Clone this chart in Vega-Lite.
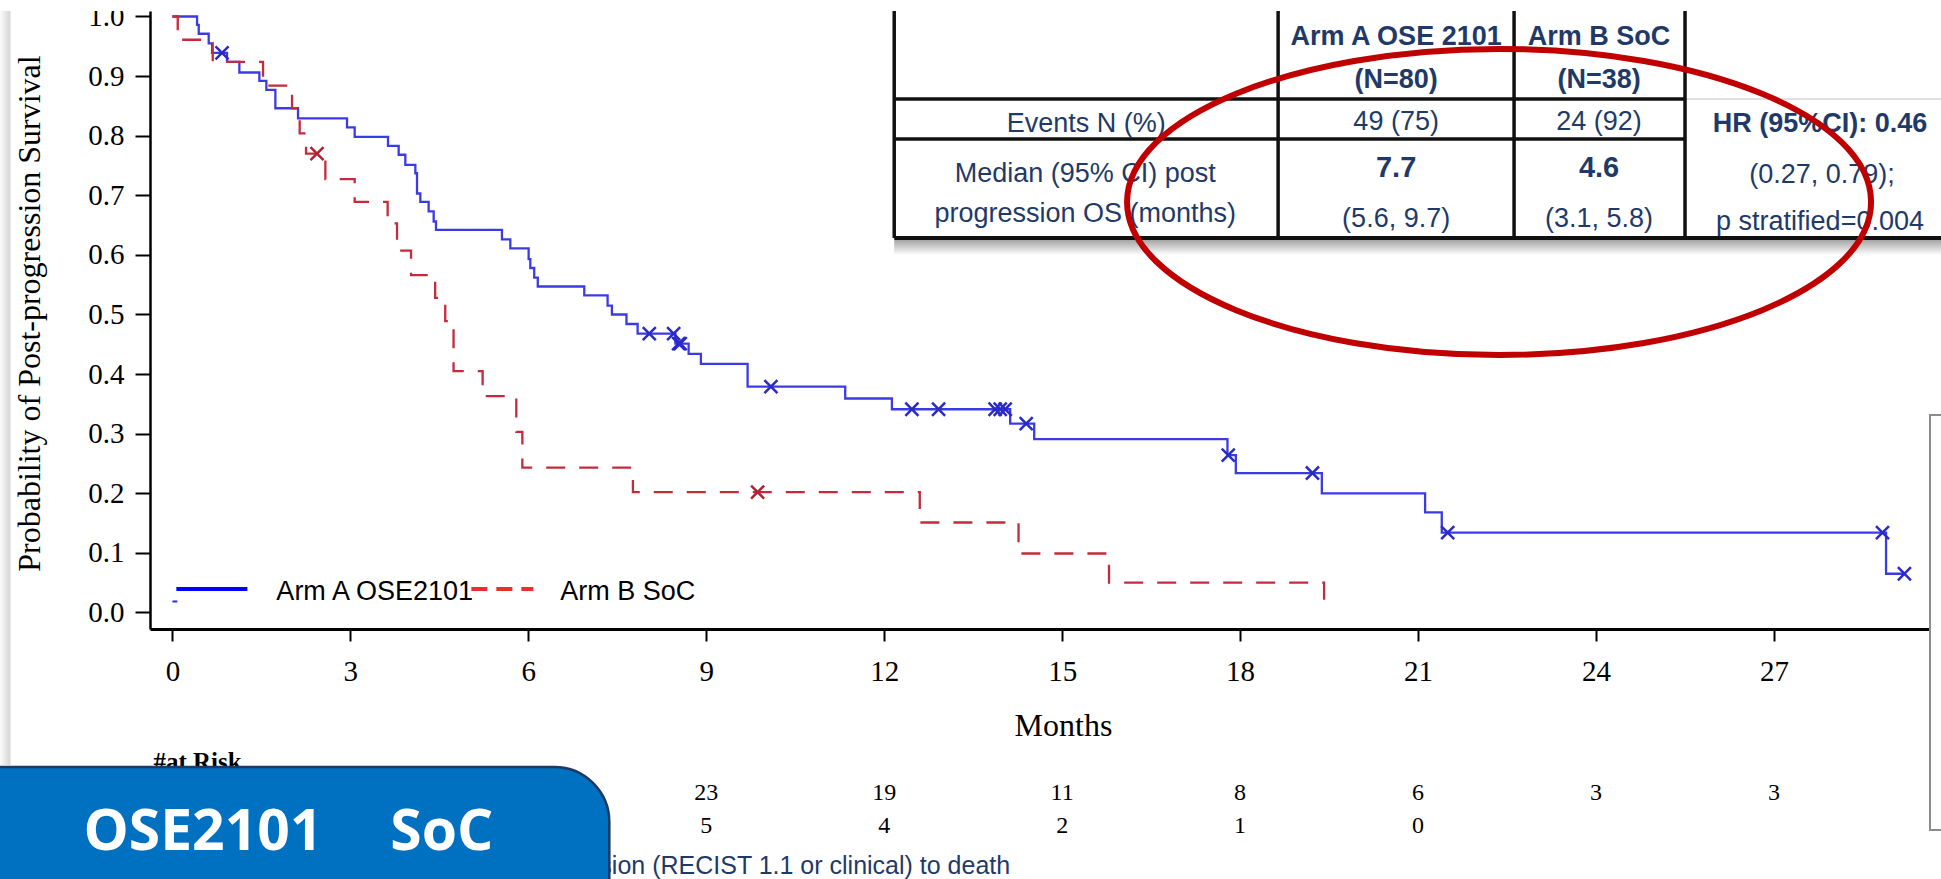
{
  "$schema": "https://vega.github.io/schema/vega-lite/v6.json",
  "width": 1780,
  "height": 618,
  "autosize": {"type": "none"},
  "padding": {"left": 150, "top": 11, "right": 11, "bottom": 250},
  "background": "white",
  "config": {"view": {"stroke": null}, "axis": {"grid": false}},
  "datasets": {
    "curves": [
      {"arm": "Arm A OSE2101", "months": 0, "survival": 1},
      {"arm": "Arm A OSE2101", "months": 0.416, "survival": 0.986},
      {"arm": "Arm A OSE2101", "months": 0.444, "survival": 0.971},
      {"arm": "Arm A OSE2101", "months": 0.612, "survival": 0.955},
      {"arm": "Arm A OSE2101", "months": 0.669, "survival": 0.939},
      {"arm": "Arm A OSE2101", "months": 0.921, "survival": 0.924},
      {"arm": "Arm A OSE2101", "months": 1.129, "survival": 0.906},
      {"arm": "Arm A OSE2101", "months": 1.466, "survival": 0.892},
      {"arm": "Arm A OSE2101", "months": 1.584, "survival": 0.877},
      {"arm": "Arm A OSE2101", "months": 1.736, "survival": 0.846},
      {"arm": "Arm A OSE2101", "months": 2.118, "survival": 0.829},
      {"arm": "Arm A OSE2101", "months": 2.944, "survival": 0.814},
      {"arm": "Arm A OSE2101", "months": 3.073, "survival": 0.798},
      {"arm": "Arm A OSE2101", "months": 3.635, "survival": 0.783},
      {"arm": "Arm A OSE2101", "months": 3.815, "survival": 0.768},
      {"arm": "Arm A OSE2101", "months": 3.927, "survival": 0.751},
      {"arm": "Arm A OSE2101", "months": 4.096, "survival": 0.737},
      {"arm": "Arm A OSE2101", "months": 4.124, "survival": 0.703},
      {"arm": "Arm A OSE2101", "months": 4.18, "survival": 0.689},
      {"arm": "Arm A OSE2101", "months": 4.32, "survival": 0.673},
      {"arm": "Arm A OSE2101", "months": 4.405, "survival": 0.656},
      {"arm": "Arm A OSE2101", "months": 4.444, "survival": 0.642},
      {"arm": "Arm A OSE2101", "months": 5.556, "survival": 0.626},
      {"arm": "Arm A OSE2101", "months": 5.697, "survival": 0.611},
      {"arm": "Arm A OSE2101", "months": 6.006, "survival": 0.593},
      {"arm": "Arm A OSE2101", "months": 6.034, "survival": 0.578},
      {"arm": "Arm A OSE2101", "months": 6.1, "survival": 0.562},
      {"arm": "Arm A OSE2101", "months": 6.16, "survival": 0.547},
      {"arm": "Arm A OSE2101", "months": 6.944, "survival": 0.532},
      {"arm": "Arm A OSE2101", "months": 7.337, "survival": 0.515},
      {"arm": "Arm A OSE2101", "months": 7.41, "survival": 0.5},
      {"arm": "Arm A OSE2101", "months": 7.655, "survival": 0.484},
      {"arm": "Arm A OSE2101", "months": 7.843, "survival": 0.468},
      {"arm": "Arm A OSE2101", "months": 8.48, "survival": 0.451},
      {"arm": "Arm A OSE2101", "months": 8.703, "survival": 0.434},
      {"arm": "Arm A OSE2101", "months": 8.91, "survival": 0.417},
      {"arm": "Arm A OSE2101", "months": 9.697, "survival": 0.379},
      {"arm": "Arm A OSE2101", "months": 11.343, "survival": 0.359},
      {"arm": "Arm A OSE2101", "months": 12.13, "survival": 0.341},
      {"arm": "Arm A OSE2101", "months": 14.124, "survival": 0.317},
      {"arm": "Arm A OSE2101", "months": 14.529, "survival": 0.291},
      {"arm": "Arm A OSE2101", "months": 17.787, "survival": 0.264},
      {"arm": "Arm A OSE2101", "months": 17.928, "survival": 0.234},
      {"arm": "Arm A OSE2101", "months": 19.378, "survival": 0.2},
      {"arm": "Arm A OSE2101", "months": 21.119, "survival": 0.168},
      {"arm": "Arm A OSE2101", "months": 21.4, "survival": 0.134},
      {"arm": "Arm A OSE2101", "months": 28.89, "survival": 0.065},
      {"arm": "Arm A OSE2101", "months": 29.2, "survival": 0.065},
      {"arm": "Arm B SoC", "months": 0, "survival": 1},
      {"arm": "Arm B SoC", "months": 0.09, "survival": 0.961},
      {"arm": "Arm B SoC", "months": 0.68, "survival": 0.924},
      {"arm": "Arm B SoC", "months": 1.528, "survival": 0.884},
      {"arm": "Arm B SoC", "months": 2.017, "survival": 0.846},
      {"arm": "Arm B SoC", "months": 2.146, "survival": 0.804},
      {"arm": "Arm B SoC", "months": 2.253, "survival": 0.77},
      {"arm": "Arm B SoC", "months": 2.579, "survival": 0.727},
      {"arm": "Arm B SoC", "months": 3.073, "survival": 0.689},
      {"arm": "Arm B SoC", "months": 3.629, "survival": 0.653},
      {"arm": "Arm B SoC", "months": 3.787, "survival": 0.607},
      {"arm": "Arm B SoC", "months": 4.023, "survival": 0.566},
      {"arm": "Arm B SoC", "months": 4.43, "survival": 0.528},
      {"arm": "Arm B SoC", "months": 4.6, "survival": 0.489},
      {"arm": "Arm B SoC", "months": 4.74, "survival": 0.405},
      {"arm": "Arm B SoC", "months": 5.23, "survival": 0.363},
      {"arm": "Arm B SoC", "months": 5.798, "survival": 0.303},
      {"arm": "Arm B SoC", "months": 5.9, "survival": 0.243},
      {"arm": "Arm B SoC", "months": 7.764, "survival": 0.202},
      {"arm": "Arm B SoC", "months": 12.6, "survival": 0.151},
      {"arm": "Arm B SoC", "months": 14.265, "survival": 0.099},
      {"arm": "Arm B SoC", "months": 15.79, "survival": 0.05},
      {"arm": "Arm B SoC", "months": 19.416, "survival": 0}
    ],
    "censored": [
      {"arm": "Arm A OSE2101", "months": 0.837, "survival": 0.939},
      {"arm": "Arm A OSE2101", "months": 8.04, "survival": 0.468},
      {"arm": "Arm A OSE2101", "months": 8.45, "survival": 0.468},
      {"arm": "Arm A OSE2101", "months": 8.534, "survival": 0.451},
      {"arm": "Arm A OSE2101", "months": 8.562, "survival": 0.451},
      {"arm": "Arm A OSE2101", "months": 10.09, "survival": 0.379},
      {"arm": "Arm A OSE2101", "months": 12.467, "survival": 0.341},
      {"arm": "Arm A OSE2101", "months": 12.917, "survival": 0.341},
      {"arm": "Arm A OSE2101", "months": 13.87, "survival": 0.341},
      {"arm": "Arm A OSE2101", "months": 13.956, "survival": 0.341},
      {"arm": "Arm A OSE2101", "months": 14.04, "survival": 0.341},
      {"arm": "Arm A OSE2101", "months": 14.394, "survival": 0.317},
      {"arm": "Arm A OSE2101", "months": 17.8, "survival": 0.264},
      {"arm": "Arm A OSE2101", "months": 19.22, "survival": 0.234},
      {"arm": "Arm A OSE2101", "months": 21.5, "survival": 0.134},
      {"arm": "Arm A OSE2101", "months": 28.83, "survival": 0.134},
      {"arm": "Arm A OSE2101", "months": 29.2, "survival": 0.065},
      {"arm": "Arm B SoC", "months": 2.438, "survival": 0.77},
      {"arm": "Arm B SoC", "months": 9.866, "survival": 0.202}
    ],
    "atrisk": [
      {"arm": "OSE2101", "months": 9, "n": 23},
      {"arm": "OSE2101", "months": 12, "n": 19},
      {"arm": "OSE2101", "months": 15, "n": 11},
      {"arm": "OSE2101", "months": 18, "n": 8},
      {"arm": "OSE2101", "months": 21, "n": 6},
      {"arm": "OSE2101", "months": 24, "n": 3},
      {"arm": "OSE2101", "months": 27, "n": 3},
      {"arm": "SoC", "months": 9, "n": 5},
      {"arm": "SoC", "months": 12, "n": 4},
      {"arm": "SoC", "months": 15, "n": 2},
      {"arm": "SoC", "months": 18, "n": 1},
      {"arm": "SoC", "months": 21, "n": 0}
    ]
  },
  "layer": [
    {
      "data": {"values": [{"item": "left edge shadow"}]},
      "mark": {"type": "rect", "color": {"gradient": "linear", "x1": 0, "y1": 0, "x2": 1, "y2": 0, "stops": [{"offset": 0, "color": "#ffffff"}, {"offset": 1, "color": "#d4d4d4"}]}},
      "encoding": {
        "x": {"datum": -2.92, "type": "quantitative"}, "x2": {"datum": -2.73},
        "y": {"datum": 1.0092, "type": "quantitative"}, "y2": {"datum": -0.2559}
      }
    },
    {
      "data": {"name": "curves"},
      "mark": {"type": "line", "interpolate": "step-after", "strokeWidth": 2.3},
      "encoding": {
        "x": {
          "field": "months", "type": "quantitative",
          "scale": {"domain": [-0.3775, 29.631], "nice": false, "zero": false},
          "axis": {
            "values": [0, 3, 6, 9, 12, 15, 18, 21, 24, 27],
            "format": "d",
            "title": "Months",
            "labelFont": "Liberation Serif", "labelFontSize": 29, "labelColor": "black",
            "labelBaseline": "alphabetic", "labelPadding": 39, "labelAngle": 0,
            "labelFlush": false, "labelOverlap": false,
            "tickSize": 12, "tickWidth": 2, "tickColor": "black",
            "domainColor": "black", "domainWidth": 3,
            "titleFont": "Liberation Serif", "titleFontSize": 32, "titleFontWeight": "normal", "titleColor": "black",
            "titleBaseline": "alphabetic", "titleAlign": "center", "titleX": 913, "titleY": 106
          }
        },
        "y": {
          "field": "survival", "type": "quantitative",
          "scale": {"domain": [-0.0277, 1.0092], "nice": false, "zero": false},
          "axis": {
            "values": [0, 0.1, 0.2, 0.3, 0.4, 0.5, 0.6, 0.7, 0.8, 0.9, 1.0],
            "format": ".1f",
            "title": "Probability of Post-progression Survival",
            "labelFont": "Liberation Serif", "labelFontSize": 29, "labelColor": "black",
            "labelPadding": 11, "labelFlush": false, "labelOverlap": false,
            "tickSize": 15, "tickWidth": 2, "tickColor": "black",
            "domainColor": "black", "domainWidth": 2.5,
            "titleFont": "Liberation Serif", "titleFontSize": 32, "titleFontWeight": "normal", "titleColor": "black",
            "titleAngle": 270, "titleBaseline": "alphabetic", "titleAlign": "center", "titleX": -111, "titleY": 302
          }
        },
        "color": {"field": "arm", "type": "nominal", "scale": {"domain": ["Arm A OSE2101", "Arm B SoC"], "range": ["#3b3be6", "#c42b3c"]}, "legend": null},
        "strokeDash": {"field": "arm", "type": "nominal", "scale": {"domain": ["Arm A OSE2101", "Arm B SoC"], "range": [[1, 0], [19, 14]]}, "legend": null}
      }
    },
    {
      "data": {"name": "censored"},
      "mark": {"type": "point", "shape": "M -1 -1 L 1 1 M -1 1 L 1 -1", "size": 170, "filled": false, "strokeWidth": 2.5, "opacity": 1},
      "encoding": {
        "x": {"field": "months", "type": "quantitative"},
        "y": {"field": "survival", "type": "quantitative"},
        "stroke": {"field": "arm", "type": "nominal", "scale": {"domain": ["Arm A OSE2101", "Arm B SoC"], "range": ["#2a2ac4", "#b02231"]}, "legend": null}
      }
    },
    {
      "data": {"values": [{"item": "start mark"}]},
      "mark": {"type": "rule", "color": "#2b2bff", "strokeWidth": 2},
      "encoding": {"x": {"datum": 0, "type": "quantitative"}, "x2": {"datum": 0.084}, "y": {"datum": 0.0185, "type": "quantitative"}}
    },
    {
      "data": {"values": [{"arm": "Arm A OSE2101"}]},
      "mark": {"type": "rule", "color": "#0000ff", "strokeWidth": 4},
      "encoding": {"x": {"datum": 0.067, "type": "quantitative"}, "x2": {"datum": 1.264}, "y": {"datum": 0.0394, "type": "quantitative"}}
    },
    {
      "data": {"values": [{"arm": "Arm A OSE2101"}]},
      "mark": {"type": "text", "font": "Liberation Sans", "fontSize": 27, "color": "black", "align": "left", "baseline": "alphabetic"},
      "encoding": {"text": {"field": "arm"}, "x": {"datum": 1.753, "type": "quantitative"}, "y": {"datum": 0.021, "type": "quantitative"}}
    },
    {
      "data": {"values": [{"arm": "Arm B SoC"}]},
      "mark": {"type": "rule", "color": "#e8302c", "strokeWidth": 4, "strokeDash": [16, 9]},
      "encoding": {"x": {"datum": 5.04, "type": "quantitative"}, "x2": {"datum": 6.085}, "y": {"datum": 0.0394, "type": "quantitative"}}
    },
    {
      "data": {"values": [{"arm": "Arm B SoC"}]},
      "mark": {"type": "text", "font": "Liberation Sans", "fontSize": 27, "color": "black", "align": "left", "baseline": "alphabetic"},
      "encoding": {"text": {"field": "arm"}, "x": {"datum": 6.54, "type": "quantitative"}, "y": {"datum": 0.021, "type": "quantitative"}}
    },
    {
      "data": {"values": [{"item": "top mask"}]},
      "mark": {"type": "rect", "color": "white"},
      "encoding": {"x": {"datum": -1.9, "type": "quantitative"}, "x2": {"datum": -0.45}, "y": {"datum": 1.05, "type": "quantitative"}, "y2": {"datum": 1.0092}}
    },
    {
      "data": {"values": [{"item": "table shadow"}]},
      "mark": {"type": "rect", "color": {"gradient": "linear", "x1": 0, "y1": 0, "x2": 0, "y2": 1, "stops": [{"offset": 0, "color": "#a4a4a4"}, {"offset": 1, "color": "#ffffff"}]}},
      "encoding": {"x": {"datum": 12.169, "type": "quantitative"}, "x2": {"datum": 29.95}, "y": {"datum": 0.625, "type": "quantitative"}, "y2": {"datum": 0.5998}}
    },
    {
      "data": {"values": [{"line": "gray header rule"}]},
      "mark": {"type": "rule", "color": "#d6d6d6", "strokeWidth": 1.5},
      "encoding": {"x": {"datum": 25.501, "type": "quantitative"}, "x2": {"datum": 29.95}, "y": {"datum": 0.8616, "type": "quantitative"}}
    },
    {
      "data": {"values": [{"line": "v1"}]},
      "mark": {"type": "rule", "color": "#111111", "strokeWidth": 3.5},
      "encoding": {"x": {"datum": 12.169, "type": "quantitative"}, "y": {"datum": 1.0092, "type": "quantitative"}, "y2": {"datum": 0.6284}}
    },
    {
      "data": {"values": [{"line": "v2"}]},
      "mark": {"type": "rule", "color": "#111111", "strokeWidth": 3.5},
      "encoding": {"x": {"datum": 18.641, "type": "quantitative"}, "y": {"datum": 1.0092, "type": "quantitative"}, "y2": {"datum": 0.6284}}
    },
    {
      "data": {"values": [{"line": "v3"}]},
      "mark": {"type": "rule", "color": "#111111", "strokeWidth": 3.5},
      "encoding": {"x": {"datum": 22.619, "type": "quantitative"}, "y": {"datum": 1.0092, "type": "quantitative"}, "y2": {"datum": 0.6284}}
    },
    {
      "data": {"values": [{"line": "v4"}]},
      "mark": {"type": "rule", "color": "#111111", "strokeWidth": 3.5},
      "encoding": {"x": {"datum": 25.501, "type": "quantitative"}, "y": {"datum": 1.0092, "type": "quantitative"}, "y2": {"datum": 0.6284}}
    },
    {
      "data": {"values": [{"line": "h1"}]},
      "mark": {"type": "rule", "color": "#111111", "strokeWidth": 3.5},
      "encoding": {"x": {"datum": 12.169, "type": "quantitative"}, "x2": {"datum": 25.501}, "y": {"datum": 0.8616, "type": "quantitative"}}
    },
    {
      "data": {"values": [{"line": "h2"}]},
      "mark": {"type": "rule", "color": "#111111", "strokeWidth": 3.5},
      "encoding": {"x": {"datum": 12.169, "type": "quantitative"}, "x2": {"datum": 25.501}, "y": {"datum": 0.7945, "type": "quantitative"}}
    },
    {
      "data": {"values": [{"line": "h3"}]},
      "mark": {"type": "rule", "color": "#111111", "strokeWidth": 4},
      "encoding": {"x": {"datum": 12.169, "type": "quantitative"}, "x2": {"datum": 29.95}, "y": {"datum": 0.6284, "type": "quantitative"}}
    },
    {
      "data": {"values": [{"label": "Arm A OSE 2101"}]},
      "mark": {"type": "text", "font": "Liberation Sans", "fontSize": 27, "fontWeight": "bold", "color": "#1f3a68", "align": "center", "baseline": "alphabetic"},
      "encoding": {"text": {"field": "label"}, "x": {"datum": 20.631, "type": "quantitative"}, "y": {"datum": 0.9522, "type": "quantitative"}}
    },
    {
      "data": {"values": [{"label": "(N=80)"}]},
      "mark": {"type": "text", "font": "Liberation Sans", "fontSize": 27, "fontWeight": "bold", "color": "#1f3a68", "align": "center", "baseline": "alphabetic"},
      "encoding": {"text": {"field": "label"}, "x": {"datum": 20.631, "type": "quantitative"}, "y": {"datum": 0.88, "type": "quantitative"}}
    },
    {
      "data": {"values": [{"label": "Arm B SoC"}]},
      "mark": {"type": "text", "font": "Liberation Sans", "fontSize": 27, "fontWeight": "bold", "color": "#1f3a68", "align": "center", "baseline": "alphabetic"},
      "encoding": {"text": {"field": "label"}, "x": {"datum": 24.052, "type": "quantitative"}, "y": {"datum": 0.9522, "type": "quantitative"}}
    },
    {
      "data": {"values": [{"label": "(N=38)"}]},
      "mark": {"type": "text", "font": "Liberation Sans", "fontSize": 27, "fontWeight": "bold", "color": "#1f3a68", "align": "center", "baseline": "alphabetic"},
      "encoding": {"text": {"field": "label"}, "x": {"datum": 24.052, "type": "quantitative"}, "y": {"datum": 0.88, "type": "quantitative"}}
    },
    {
      "data": {"values": [{"label": "Events N (%)"}]},
      "mark": {"type": "text", "font": "Liberation Sans", "fontSize": 27, "color": "#1f3a68", "align": "center", "baseline": "alphabetic"},
      "encoding": {"text": {"field": "label"}, "x": {"datum": 15.405, "type": "quantitative"}, "y": {"datum": 0.807, "type": "quantitative"}}
    },
    {
      "data": {"values": [{"label": "49 (75)"}]},
      "mark": {"type": "text", "font": "Liberation Sans", "fontSize": 27, "color": "#1f3a68", "align": "center", "baseline": "alphabetic"},
      "encoding": {"text": {"field": "label"}, "x": {"datum": 20.631, "type": "quantitative"}, "y": {"datum": 0.8096, "type": "quantitative"}}
    },
    {
      "data": {"values": [{"label": "24 (92)"}]},
      "mark": {"type": "text", "font": "Liberation Sans", "fontSize": 27, "color": "#1f3a68", "align": "center", "baseline": "alphabetic"},
      "encoding": {"text": {"field": "label"}, "x": {"datum": 24.052, "type": "quantitative"}, "y": {"datum": 0.8096, "type": "quantitative"}}
    },
    {
      "data": {"values": [{"label": "HR (95%CI): 0.46"}]},
      "mark": {"type": "text", "font": "Liberation Sans", "fontSize": 27, "fontWeight": "bold", "color": "#1f3a68", "align": "center", "baseline": "alphabetic"},
      "encoding": {"text": {"field": "label"}, "x": {"datum": 27.777, "type": "quantitative"}, "y": {"datum": 0.807, "type": "quantitative"}}
    },
    {
      "data": {"values": [{"label": "Median (95% CI) post"}]},
      "mark": {"type": "text", "font": "Liberation Sans", "fontSize": 27, "color": "#1f3a68", "align": "center", "baseline": "alphabetic"},
      "encoding": {"text": {"field": "label"}, "x": {"datum": 15.39, "type": "quantitative"}, "y": {"datum": 0.7228, "type": "quantitative"}}
    },
    {
      "data": {"values": [{"label": "progression OS (months)"}]},
      "mark": {"type": "text", "font": "Liberation Sans", "fontSize": 27, "color": "#1f3a68", "align": "center", "baseline": "alphabetic"},
      "encoding": {"text": {"field": "label"}, "x": {"datum": 15.39, "type": "quantitative"}, "y": {"datum": 0.6552, "type": "quantitative"}}
    },
    {
      "data": {"values": [{"label": "7.7"}]},
      "mark": {"type": "text", "font": "Liberation Sans", "fontSize": 29, "fontWeight": "bold", "color": "#1f3a68", "align": "center", "baseline": "alphabetic"},
      "encoding": {"text": {"field": "label"}, "x": {"datum": 20.631, "type": "quantitative"}, "y": {"datum": 0.7312, "type": "quantitative"}}
    },
    {
      "data": {"values": [{"label": "4.6"}]},
      "mark": {"type": "text", "font": "Liberation Sans", "fontSize": 29, "fontWeight": "bold", "color": "#1f3a68", "align": "center", "baseline": "alphabetic"},
      "encoding": {"text": {"field": "label"}, "x": {"datum": 24.052, "type": "quantitative"}, "y": {"datum": 0.7312, "type": "quantitative"}}
    },
    {
      "data": {"values": [{"label": "(5.6, 9.7)"}]},
      "mark": {"type": "text", "font": "Liberation Sans", "fontSize": 27, "color": "#1f3a68", "align": "center", "baseline": "alphabetic"},
      "encoding": {"text": {"field": "label"}, "x": {"datum": 20.631, "type": "quantitative"}, "y": {"datum": 0.6473, "type": "quantitative"}}
    },
    {
      "data": {"values": [{"label": "(3.1, 5.8)"}]},
      "mark": {"type": "text", "font": "Liberation Sans", "fontSize": 27, "color": "#1f3a68", "align": "center", "baseline": "alphabetic"},
      "encoding": {"text": {"field": "label"}, "x": {"datum": 24.052, "type": "quantitative"}, "y": {"datum": 0.6473, "type": "quantitative"}}
    },
    {
      "data": {"values": [{"label": "(0.27, 0.79);"}]},
      "mark": {"type": "text", "font": "Liberation Sans", "fontSize": 27, "color": "#1f3a68", "align": "center", "baseline": "alphabetic"},
      "encoding": {"text": {"field": "label"}, "x": {"datum": 27.81, "type": "quantitative"}, "y": {"datum": 0.7201, "type": "quantitative"}}
    },
    {
      "data": {"values": [{"label": "p stratified=0.004"}]},
      "mark": {"type": "text", "font": "Liberation Sans", "fontSize": 27, "color": "#1f3a68", "align": "center", "baseline": "alphabetic"},
      "encoding": {"text": {"field": "label"}, "x": {"datum": 27.777, "type": "quantitative"}, "y": {"datum": 0.6418, "type": "quantitative"}}
    },
    {
      "data": {"values": [{"item": "highlight ellipse"}]},
      "mark": {"type": "point", "shape": "M 1 0 C 1 0.2272 0.5523 0.4113 0 0.4113 C -0.5523 0.4113 -1 0.2272 -1 0 C -1 -0.2272 -0.5523 -0.4113 0 -0.4113 C 0.5523 -0.4113 1 -0.2272 1 0 Z", "size": 553536, "filled": false, "stroke": "#c00000", "strokeWidth": 6, "opacity": 1},
      "encoding": {"x": {"datum": 22.366, "type": "quantitative"}, "y": {"datum": 0.6888, "type": "quantitative"}}
    },
    {
      "data": {"values": [{"item": "right panel"}]},
      "mark": {"type": "rect", "color": "white", "stroke": "#8c8c8c", "strokeWidth": 2},
      "encoding": {"x": {"datum": 29.631, "type": "quantitative"}, "x2": {"datum": 30.4}, "y": {"datum": 0.3314, "type": "quantitative"}, "y2": {"datum": -0.3649}}
    },
    {
      "data": {"values": [{"label": "#at Risk"}]},
      "mark": {"type": "text", "font": "Liberation Serif", "fontSize": 25, "fontWeight": "bold", "color": "black", "align": "left", "baseline": "alphabetic"},
      "encoding": {"text": {"field": "label"}, "x": {"datum": -0.32, "type": "quantitative"}, "y": {"datum": -0.2643, "type": "quantitative"}}
    },
    {
      "data": {"name": "atrisk"},
      "transform": [{"filter": "datum.arm === 'OSE2101'"}],
      "mark": {"type": "text", "font": "Liberation Serif", "fontSize": 24, "color": "black", "align": "center", "baseline": "alphabetic"},
      "encoding": {"text": {"field": "n"}, "x": {"field": "months", "type": "quantitative"}, "y": {"datum": -0.3146, "type": "quantitative"}}
    },
    {
      "data": {"name": "atrisk"},
      "transform": [{"filter": "datum.arm === 'SoC'"}],
      "mark": {"type": "text", "font": "Liberation Serif", "fontSize": 24, "color": "black", "align": "center", "baseline": "alphabetic"},
      "encoding": {"text": {"field": "n"}, "x": {"field": "months", "type": "quantitative"}, "y": {"datum": -0.37, "type": "quantitative"}}
    },
    {
      "data": {"values": [{"label": "progression (RECIST 1.1 or clinical) to death"}]},
      "mark": {"type": "text", "font": "Liberation Sans", "fontSize": 25, "color": "#1f3a68", "align": "right", "baseline": "alphabetic"},
      "encoding": {"text": {"field": "label"}, "x": {"datum": 14.124, "type": "quantitative"}, "y": {"datum": -0.4388, "type": "quantitative"}}
    },
    {
      "data": {"values": [{"item": "banner"}]},
      "mark": {"type": "rect", "color": "#0070c0", "stroke": "#1f3864", "strokeWidth": 2.5, "cornerRadiusTopRight": 55},
      "encoding": {"x": {"datum": -3.2, "type": "quantitative"}, "x2": {"datum": 7.366}, "y": {"datum": -0.2592, "type": "quantitative"}, "y2": {"datum": -0.47}}
    },
    {
      "data": {"values": [{"label": "OSE2101"}]},
      "mark": {"type": "text", "font": "Open Sans", "fontSize": 57, "fontWeight": "bold", "color": "white", "align": "left", "baseline": "alphabetic"},
      "encoding": {"text": {"field": "label"}, "x": {"datum": -1.5, "type": "quantitative"}, "y": {"datum": -0.3985, "type": "quantitative"}}
    },
    {
      "data": {"values": [{"label": "SoC"}]},
      "mark": {"type": "text", "font": "Open Sans", "fontSize": 57, "fontWeight": "bold", "color": "white", "align": "left", "baseline": "alphabetic"},
      "encoding": {"text": {"field": "label"}, "x": {"datum": 3.674, "type": "quantitative"}, "y": {"datum": -0.3985, "type": "quantitative"}}
    }
  ]
}
